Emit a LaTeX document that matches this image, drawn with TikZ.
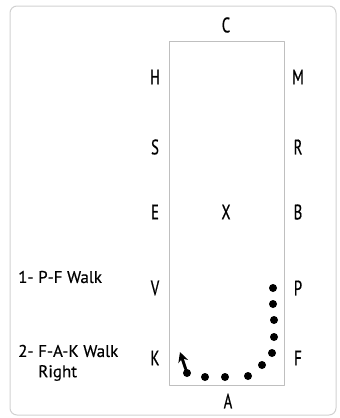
\documentclass[tikz,border=0pt]{standalone}
\usepackage{fontspec}
\setmainfont{PT Sans}
\newfontfamily\arenafont[FakeStretch=0.7, FakeBold=0.6]{PT Sans}
\newfontfamily\notefont[FakeBold=0.4]{PT Sans}
\usetikzlibrary{arrows.meta}
\begin{document}
\begin{tikzpicture}[line cap=round,line join=round,x=1pt,y=-1pt,
  letter/.style={font=\arenafont\fontsize{21}{21}\selectfont, inner sep=0pt},
  note/.style={font=\notefont\fontsize{17}{20}\selectfont, inner sep=0pt, anchor=west},
  dot/.style={circle, fill=black, minimum size=8pt, inner sep=0pt}]
  \useasboundingbox (0,0) rectangle (340,418);
  \draw [black!18, line width=1pt, rounded corners=7pt] (10,6) rectangle (336,415);
  \draw [black!25, line width=0.8pt] (169,41) rectangle (284,385);

  \node[letter] (C) at (226,25) {C};
  \node[letter] (H) at (155,77) {H};
  \node[letter] (M) at (298,77) {M};
  \node[letter] (S) at (155,147) {S};
  \node[letter] (R) at (298,147) {R};
  \node[letter] (E) at (155,212) {E};
  \node[letter] (X) at (226,212) {X};
  \node[letter] (B) at (298,212) {B};
  \node[letter] (V) at (155,288) {V};
  \node[letter] (P) at (298,288) {P};
  \node[letter] (K) at (155,358) {K};
  \node[letter] (F) at (298,358) {F};
  \node[letter] (A) at (228,401) {A};

  \node[note] (walk1) at (18,277) {1- P-F Walk};
  \node[note] (walk2) at (18,351) {2- F-A-K Walk};
  \node[note] (right) at (38,373) {Right};

  % the walk
  \foreach \i/\px/\py in {1/273/288, 2/273/304, 3/274/320, 4/274/337, 5/272/353,
                          6/262/365, 7/248/376, 8/225/377, 9/205/377, 10/187/373}
    \node[dot] (d\i) at (\px,\py) {};
  \coordinate (tip) at (180,352);
  \draw [line width=3pt, -{Stealth[length=10pt, width=10pt]}] (d10) -- (tip);
\end{tikzpicture}
\end{document}
